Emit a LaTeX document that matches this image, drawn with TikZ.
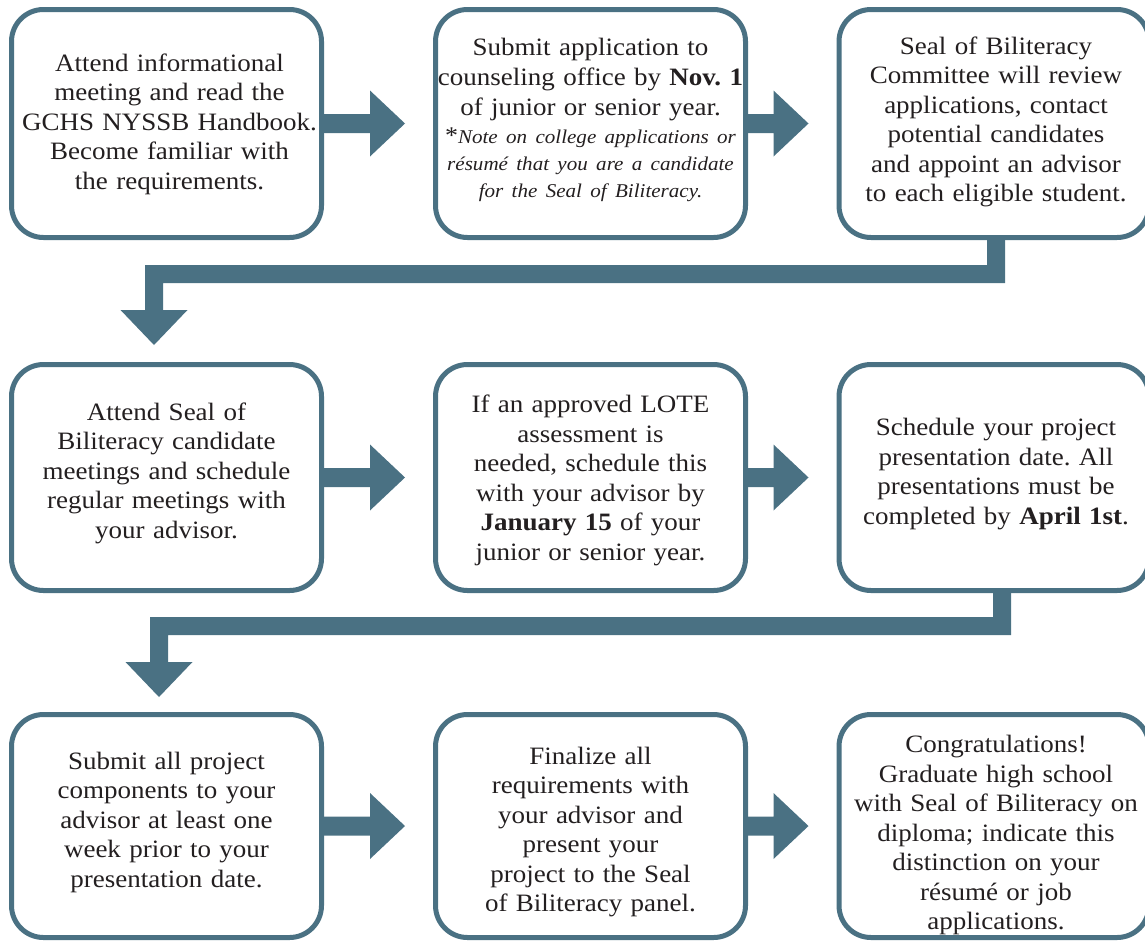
\documentclass[tikz,border=0pt]{standalone}
\usepackage{fontspec}
\setmainfont{Liberation Serif}[FakeStretch=1.08]
\usetikzlibrary{calc}
\definecolor{flowc}{RGB}{74,113,131}
\definecolor{txtc}{RGB}{35,31,32}
\frenchspacing
% horizontal block arrow from node #1 to node #2
\newcommand\hflow[2]{%
  \fill[flow] let \p1=(#1.east), \p2=(#2.west) in
    (\x1-3pt,\y1+9.5pt) -- (\x2-63pt,\y1+9.5pt) -- (\x2-63pt,\y1+33pt)
    -- (\x2-28pt,\y1) -- (\x2-63pt,\y1-33pt) -- (\x2-63pt,\y1-9.5pt)
    -- (\x1-3pt,\y1-9.5pt) -- cycle;}
% elbow block arrow: #1 from, #2 to, #3 stem left x, #4 bar top y, #5 down left x, #6 head base y, #7 gap above target
\newcommand\vflow[7]{%
  \fill[flow] let \p1=(#1.south), \p2=(#2.north) in
    (#3pt,\y1+3pt) -- (#3pt,-#4pt) -- (#5pt,-#4pt) -- (#5pt,-#6pt)
    -- (#5pt-24.5pt,-#6pt) -- (#5pt+9pt,\y2+#7pt) -- (#5pt+42.5pt,-#6pt)
    -- (#5pt+18pt,-#6pt) -- (#5pt+18pt,-#4pt-18pt) -- (#3pt+18pt,-#4pt-18pt)
    -- (#3pt+18pt,\y1+3pt) -- cycle;}
\begin{document}
\begin{tikzpicture}[x=1pt,y=1pt,
  stepbox/.style={draw=flowc, line width=5pt, rounded corners=32pt, fill=white,
    minimum width=310pt, minimum height=228pt, inner sep=0pt},
  txt/.style={text=txtc, align=center, text width=330pt, inner sep=0pt,
    font=\fontsize{25}{29.5}\selectfont},
  flow/.style={fill=flowc}]
\useasboundingbox (0,0) rectangle (1145,-940);

% row 1
\node[stepbox] (b1) at (166.5,-123.5) {};
\node[stepbox] (b2) at (590.5,-123.5) {};
\node[stepbox] (b3) at (994,-123.5) {};
% row 2
\node[stepbox, minimum height=226pt] (b4) at (166.5,-477.5) {};
\node[stepbox, minimum height=226pt] (b5) at (590.5,-477.5) {};
\node[stepbox, minimum height=226pt] (b6) at (994,-477.5) {};
% row 3
\node[stepbox, minimum height=223pt] (b7) at (166.5,-826) {};
\node[stepbox, minimum height=223pt] (b8) at (590.5,-826) {};
\node[stepbox, minimum height=223pt] (b9) at (994,-826) {};

% texts
\node[txt] (t1) at ($(b1.center)+(3,-0.5)$) {Attend informational\\meeting and read the\\GCHS NYSSB Handbook.\\Become familiar with\\the requirements.};
\node[txt] (t2) at ($(b2.center)+(0,4)$) {{\fontsize{25}{30}\selectfont Submit application to\\counseling office by \textbf{Nov.~1}\\of junior or senior year.\par}\vskip1pt
{\fontsize{19.5}{27}\selectfont{\fontsize{24}{27}\selectfont *}\textit{Note on college applications or}\\\textit{résumé that you are a candidate}\\\textit{for the Seal of Biliteracy.}\par}};
\node[txt] (t3) at ($(b3.center)+(2,1.5)$) {Seal of Biliteracy\\Committee will review\\applications, contact\\potential candidates\\and appoint an advisor\\to each eligible student.};
\node[txt] (t4) at ($(b4.center)+(0,4.5)$) {Attend Seal of\\Biliteracy candidate\\meetings and schedule\\regular meetings with\\your advisor.};
\node[txt] (t5) at ($(b5.center)+(0,-3)$) {If an approved LOTE\\assessment is\\needed, schedule this\\with your advisor by\\\textbf{January 15} of your\\junior or senior year.};
\node[txt] (t6) at ($(b6.center)+(2,3.5)$) {Schedule your project\\presentation date. All\\presentations must be\\completed by \textbf{April 1st}.};
\node[txt] (t7) at ($(b7.center)+(0,4)$) {Submit all project\\components to your\\advisor at least one\\week prior to your\\presentation date.};
\node[txt] (t8) at ($(b8.center)+(0,-6)$) {Finalize all\\requirements with\\your advisor and\\present your\\project to the Seal\\of Biliteracy panel.};
\node[txt] (t9) at ($(b9.center)+(2,-9)$) {Congratulations!\\Graduate high school\\with Seal of Biliteracy on\\diploma; indicate this\\distinction on your\\résumé or job\\applications.};

% connectors
\hflow{b1}{b2}
\hflow{b2}{b3}
\vflow{b3}{b4}{987}{265}{145}{310}{17}
\hflow{b4}{b5}
\hflow{b5}{b6}
\vflow{b6}{b7}{993}{617}{150}{662}{15}
\hflow{b7}{b8}
\hflow{b8}{b9}
\end{tikzpicture}
\end{document}
